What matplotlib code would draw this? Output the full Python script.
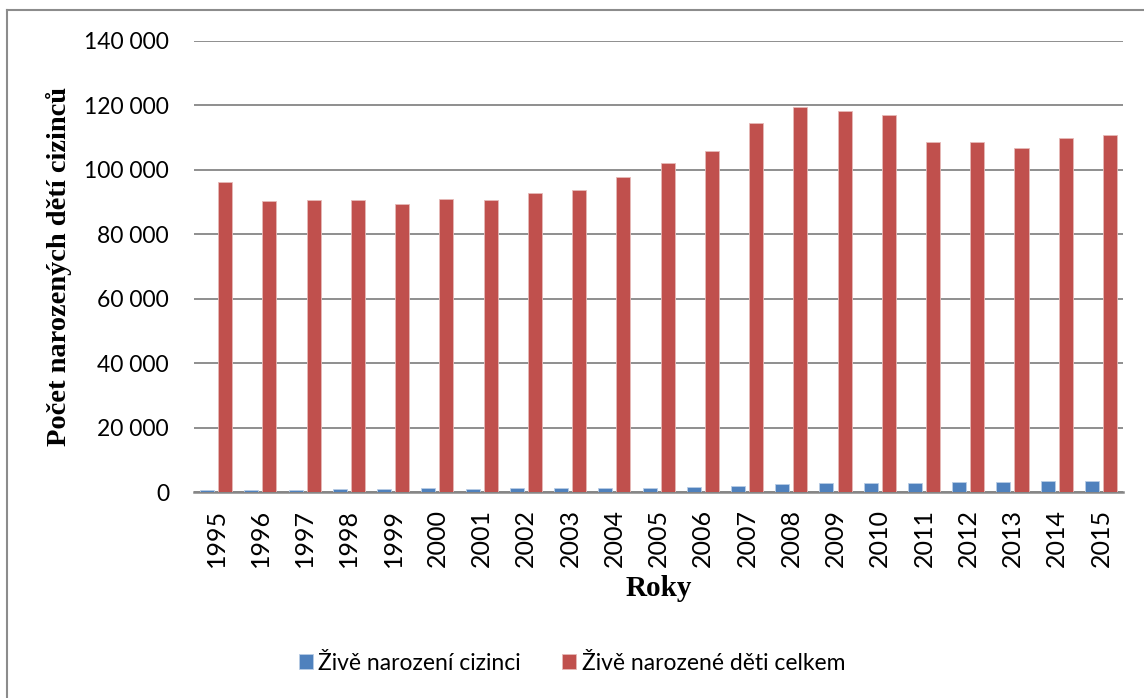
import numpy as np
import matplotlib
matplotlib.use("Agg")
import matplotlib.pyplot as plt
from matplotlib.lines import Line2D
from matplotlib.ticker import FuncFormatter

# values
roky = [1995, 1996, 1997, 1998, 1999, 2000, 2001, 2002, 2003, 2004, 2005,
        2006, 2007, 2008, 2009, 2010, 2011, 2012, 2013, 2014, 2015]
cizinci = [600, 650, 650, 900, 900, 1200, 900, 1200, 1400, 1400, 1350,
           1500, 1900, 2500, 2900, 2900, 2700, 3100, 3100, 3300, 3500]
celkem = [96100, 90450, 90650, 90550, 89500, 90900, 90700, 92800, 93700, 97650, 102200,
          105800, 114650, 119550, 118350, 117150, 108700, 108600, 106750, 109850, 110750]

sans = ["Lato", "DejaVu Sans"]
serif = ["Liberation Serif", "DejaVu Serif"]

fig = plt.figure(figsize=(11.44, 6.98), dpi=100)
ax = fig.add_axes([0.1696, 0.2951, 0.8121, 0.6462])

x = np.arange(len(roky))
w = 0.317
off = 0.204
ax.bar(x - off, cizinci, w, color="#4F81BD", edgecolor="#b9cde5", linewidth=0.6,
       label="Živě narození cizinci", zorder=3)
ax.bar(x + off, celkem, w, color="#C0504D", edgecolor="#e6b9b8", linewidth=0.6,
       label="Živě narozené děti celkem", zorder=3)

ax.set_xlim(-0.5, len(roky) - 0.5)
ax.set_ylim(0, 140000)
ax.set_yticks(np.arange(0, 140001, 20000))
ax.yaxis.set_major_formatter(FuncFormatter(lambda v, p: f"{int(v):,}".replace(",", " ")))
ax.set_xticks(x)
ax.set_xticklabels([str(r) for r in roky], rotation=90)

ax.grid(axis="y", color="#868686", linewidth=1.3, zorder=0)
ax.tick_params(length=0)
for lab in ax.get_yticklabels():
    lab.set_family(sans)
    lab.set_fontsize(16.5)
for lab in ax.get_xticklabels():
    lab.set_family(sans)
    lab.set_fontsize(18)
ax.tick_params(axis="y", pad=18)
ax.tick_params(axis="x", pad=12)

for s in ["top", "right", "left"]:
    ax.spines[s].set_visible(False)
ax.spines["bottom"].set_color("#868686")
ax.spines["bottom"].set_linewidth(1.8)

ax.set_xlabel("Roky", family=serif, fontweight="bold", fontsize=21, labelpad=6)
ax.set_ylabel("Počet narozených dětí cizinců", family=serif, fontweight="bold",
              fontsize=20.5, labelpad=9)

leg = fig.legend(loc="center", bbox_to_anchor=(0.5, 0.05), ncol=2, frameon=False,
                 prop={"family": sans, "size": 16.5}, handlelength=0.6, handleheight=0.6,
                 handletextpad=0.25, columnspacing=1.8)

# outer chart frame (only top and left edges visible in the crop)
fx = 7 / 1144
fy = 1 - 10 / 698
fig.add_artist(Line2D([fx, fx], [0, fy], transform=fig.transFigure, color="#8c8c8c", lw=1.5))
fig.add_artist(Line2D([fx, 1], [fy, fy], transform=fig.transFigure, color="#8c8c8c", lw=1.5))

fig.savefig("out.png", dpi=100)
plt.close(fig)
